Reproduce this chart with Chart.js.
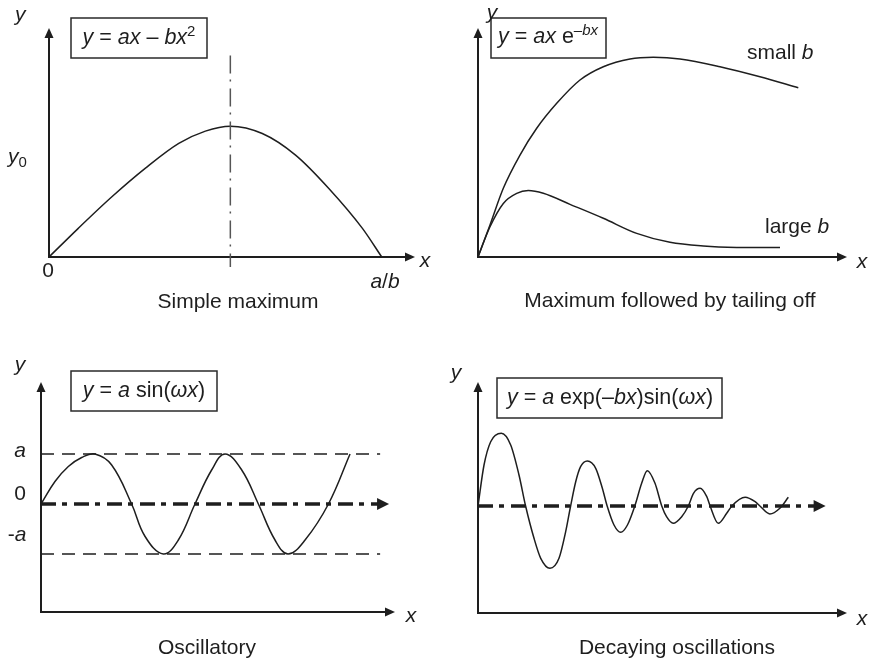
<!DOCTYPE html>
<html>
<head>
<meta charset="utf-8">
<script src="https://cdn.jsdelivr.net/npm/chart.js@4.4.1/dist/chart.umd.min.js"></script>
<style>
    body { margin: 0; background: #fff; }
    #wrap { position: relative; width: 870px; height: 661px; }
    #wrap canvas { position: absolute; left: 0; top: 0; }
</style>
</head>
<body>
<div id="wrap">
    <canvas id="maxChart" width="870" height="661"></canvas>
    <canvas id="tailChart" width="870" height="661"></canvas>
    <canvas id="oscChart" width="870" height="661"></canvas>
    <canvas id="decayChart" width="870" height="661"></canvas>
</div>
<script>
// Panel 1: y = ax - bx^2 (x in units of a/b, y in units of the maximum)
const MAX_X = [0, 0.088, 0.189, 0.289, 0.390, 0.470, 0.545, 0.641, 0.741, 0.841, 0.942, 1.0];
const MAX_Y = [0, 0.219, 0.460, 0.677, 0.868, 0.962, 1.0, 0.944, 0.779, 0.524, 0.219, 0];
const MAX_PEAK_X = 0.545;
const MAX_MARK_Y = [1.54, -0.076];

// Panel 2: y = ax e^-bx
const SMALL_B_X = [0, 0.325, 0.686, 1.138, 1.591, 2.133, 2.764, 3.396, 4.119, 4.751, 5.474, 6.558, 7.642, 8.680];
const SMALL_B_Y = [0, 1.40, 3.00, 4.45, 5.62, 6.71, 7.73, 8.31, 8.65, 8.72, 8.65, 8.31, 7.87, 7.39];
const LARGE_B_X = [0, 0.325, 0.686, 1.049, 1.363, 1.770, 2.493, 3.396, 4.301, 5.203, 6.106, 7.011, 8.184];
const LARGE_B_Y = [0, 1.32, 2.34, 2.78, 2.90, 2.78, 2.30, 1.69, 1.03, 0.64, 0.48, 0.42, 0.41];

// Panel 3: y = a sin(wx), a = 1
const OSC_X = [0, 0.395, 0.772, 1.149, 1.525, 1.996, 2.56, 2.94, 3.455, 3.88, 4.35, 4.82, 5.198, 5.67, 6.14, 6.61, 6.98, 7.46, 8.12, 8.73];
const OSC_Y = [0, 0.45, 0.75, 0.93, 1.0, 0.78, 0, -0.65, -1.0, -0.72, 0, 0.68, 1.0, 0.68, 0, -0.72, -1.0, -0.72, 0, 1.0];
const OSC_LEVELS = [1, -1];
const OSC_LEVEL_END = 9.58;
const OSC_ZERO_END = 9.55;

// Panel 4: y = a exp(-bx) sin(wx)
const DECAY_X = [0, 0.163, 0.344, 0.632, 0.886, 1.111, 1.29, 1.518, 1.70, 1.951, 2.195, 2.376, 2.51, 2.648, 2.78, 2.963,
                 3.19, 3.37, 3.50, 3.686, 3.867, 4.05, 4.25, 4.435, 4.588, 4.797, 4.98, 5.11, 5.29, 5.52, 5.70, 5.84,
                 6.02, 6.20, 6.29, 6.51, 6.74, 6.88, 7.24, 7.51, 7.64, 7.91, 8.18, 8.41];
const DECAY_Y = [0, 4.1, 6.43, 7.27, 6.1, 3.1, 0, -3.23, -5.23, -6.23, -5.23, -2.57, 0, 2.43, 3.93, 4.5,
                 3.77, 1.77, 0, -1.9, -2.63, -1.9, 0, 2.27, 3.53, 2.27, 0, -1.07, -1.73, -1.07, 0, 1.27,
                 1.77, 0.93, 0, -1.73, -0.73, 0, 0.87, 0.43, 0, -0.8, -0.23, 0.87];
const DECAY_ZERO_END = 9.15;

const FONT = '"Liberation Sans", Arial, Helvetica, sans-serif';
const INK = '#1e1e1e';
const TEXT_SIZE = 21;
const BOX_TEXT_SIZE = 21.5;

const xy = (xs, ys) => xs.map((x, i) => ({ x, y: ys[i] }));

/**
 * Pfeilspitze zeichnen, (dx, dy) = Richtung
 */
function head(ctx, x, y, dx, dy, len, half) {
    ctx.beginPath();
    ctx.moveTo(x, y);
    ctx.lineTo(x - dx * len - dy * half, y - dy * len + dx * half);
    ctx.lineTo(x - dx * len + dy * half, y - dy * len - dx * half);
    ctx.closePath();
    ctx.fill();
}

function drawAxes(chart) {
    const ctx = chart.ctx;
    const a = chart.chartArea;
    ctx.save();
    ctx.strokeStyle = INK;
    ctx.fillStyle = INK;
    ctx.lineWidth = 2;
    ctx.beginPath();
    ctx.moveTo(a.left, a.top + 8);
    ctx.lineTo(a.left, a.bottom);
    ctx.lineTo(a.right - 8, a.bottom);
    ctx.stroke();
    head(ctx, a.left, a.top, 0, -1, 10, 4.5);
    head(ctx, a.right, a.bottom, 1, 0, 10, 4.5);
    ctx.restore();
}

/**
 * Text mit kursiven / hochgestellten Teilen
 * parts: [[text, style]], style: 'i', 'sup', 'isup', 'sub'
 */
function rich(ctx, parts, x, y, align = 'left', size = TEXT_SIZE) {
    const fontFor = st => {
        const small = st && (st.includes('sup') || st === 'sub');
        const italic = st && st.startsWith('i');
        return (italic ? 'italic ' : '') + (small ? Math.round(size * 0.7) : size) + 'px ' + FONT;
    };
    let total = 0;
    const widths = parts.map(([t, st]) => {
        ctx.font = fontFor(st);
        const w = ctx.measureText(t).width;
        total += w;
        return w;
    });
    let cx = align === 'center' ? x - total / 2 : align === 'right' ? x - total : x;
    ctx.textAlign = 'left';
    ctx.textBaseline = 'alphabetic';
    parts.forEach(([t, st], i) => {
        ctx.font = fontFor(st);
        let dy = 0;
        if (st && st.includes('sup')) dy = -8;
        if (st === 'sub') dy = 4;
        ctx.fillText(t, cx, y + dy);
        cx += widths[i];
    });
}

function box(ctx, x1, y1, x2, y2) {
    ctx.lineWidth = 1.5;
    ctx.strokeStyle = '#2a2a2a';
    ctx.strokeRect(x1, y1, x2 - x1, y2 - y1);
}

function decor(draw) {
    return {
        id: 'decor',
        beforeDatasetsDraw(chart) { drawAxes(chart); },
        afterDraw(chart) {
            const ctx = chart.ctx;
            ctx.save();
            ctx.fillStyle = INK;
            draw(chart, ctx);
            ctx.restore();
        }
    };
}

function curve(data, extra = {}) {
    return Object.assign({
        data,
        showLine: true,
        borderColor: INK,
        borderWidth: 1.5,
        pointRadius: 0,
        cubicInterpolationMode: 'monotone',
        fill: false,
        clip: false
    }, extra);
}

function makeChart(id, padding, xr, yr, datasets, draw) {
    return new Chart(document.getElementById(id), {
        type: 'scatter',
        data: { datasets },
        options: {
            responsive: false,
            animation: false,
            devicePixelRatio: 1,
            events: [],
            layout: { padding },
            plugins: { legend: { display: false }, tooltip: { enabled: false } },
            scales: {
                x: { type: 'linear', display: false, min: xr[0], max: xr[1] },
                y: { type: 'linear', display: false, min: yr[0], max: yr[1] }
            }
        },
        plugins: [decor(draw)]
    });
}

// Panel 1 - Simple maximum
makeChart('maxChart', { left: 49, right: 455, top: 28, bottom: 404 }, [0, 1.1], [0, 1.75], [
    curve([{ x: MAX_PEAK_X, y: MAX_MARK_Y[0] }, { x: MAX_PEAK_X, y: MAX_MARK_Y[1] }],
        { borderColor: '#555', borderDash: [18, 6, 2, 7], cubicInterpolationMode: 'default' }),
    curve(xy(MAX_X, MAX_Y))
], (chart, ctx) => {
    box(ctx, 71, 18, 207, 58);
    rich(ctx, [['y', 'i'], [' = '], ['ax', 'i'], [' – '], ['bx', 'i'], ['2', 'sup']], 139, 44, 'center', BOX_TEXT_SIZE);
    rich(ctx, [['y', 'i']], 15, 21);
    rich(ctx, [['y', 'i'], ['0', 'sub']], 8, 163);
    rich(ctx, [['0']], 48, 277, 'center');
    rich(ctx, [['a', 'i'], ['/'], ['b', 'i']], 385, 288, 'center');
    rich(ctx, [['x', 'i']], 425, 267, 'center');
    rich(ctx, [['Simple maximum']], 238, 308, 'center');
});

// Panel 2 - Maximum followed by tailing off
makeChart('tailChart', { left: 478, right: 23, top: 28, bottom: 404 }, [0, 10], [0, 10], [
    curve(xy(SMALL_B_X, SMALL_B_Y)),
    curve(xy(LARGE_B_X, LARGE_B_Y))
], (chart, ctx) => {
    box(ctx, 491, 18, 606, 58);
    rich(ctx, [['y', 'i'], [' = '], ['ax', 'i'], [' e'], ['–', 'sup'], ['bx', 'isup']], 548, 43, 'center', BOX_TEXT_SIZE);
    rich(ctx, [['y', 'i']], 492, 19, 'center');
    rich(ctx, [['small '], ['b', 'i']], 747, 59);
    rich(ctx, [['large '], ['b', 'i']], 765, 233);
    rich(ctx, [['x', 'i']], 862, 268, 'center');
    rich(ctx, [['Maximum followed by tailing off']], 670, 307, 'center');
});

// Panel 3 - Oscillatory
makeChart('oscChart', { left: 41, right: 475, top: 382, bottom: 49 }, [0, 10], [-2.16, 2.44], [
    curve([{ x: 0, y: 0 }, { x: OSC_ZERO_END, y: 0 }],
        { borderWidth: 3.5, borderDash: [15, 6, 5, 7], cubicInterpolationMode: 'default' }),
    curve([{ x: 0, y: OSC_LEVELS[0] }, { x: OSC_LEVEL_END, y: OSC_LEVELS[0] }],
        { borderWidth: 1.4, borderDash: [13, 8], cubicInterpolationMode: 'default' }),
    curve([{ x: 0, y: OSC_LEVELS[1] }, { x: OSC_LEVEL_END, y: OSC_LEVELS[1] }],
        { borderWidth: 1.4, borderDash: [13, 8], cubicInterpolationMode: 'default' }),
    curve(xy(OSC_X, OSC_Y), { cubicInterpolationMode: 'default', tension: 0.4 })
], (chart, ctx) => {
    const sx = chart.scales.x, sy = chart.scales.y;
    head(ctx, sx.getPixelForValue(OSC_ZERO_END) + 10, sy.getPixelForValue(0), 1, 0, 12, 6);
    box(ctx, 71, 371, 217, 411);
    rich(ctx, [['y', 'i'], [' = '], ['a', 'i'], [' sin('], ['ωx', 'i'], [')']], 144, 397, 'center', BOX_TEXT_SIZE);
    rich(ctx, [['y', 'i']], 20, 371, 'center');
    rich(ctx, [['a', 'i']], 20, sy.getPixelForValue(OSC_LEVELS[0]) + 3, 'center');
    rich(ctx, [['0']], 20, 500, 'center');
    rich(ctx, [['-'], ['a', 'i']], 17, sy.getPixelForValue(OSC_LEVELS[1]) - 13, 'center');
    rich(ctx, [['x', 'i']], 411, 622, 'center');
    rich(ctx, [['Oscillatory']], 207, 654, 'center');
});

// Panel 4 - Decaying oscillations
makeChart('decayChart', { left: 478, right: 23, top: 382, bottom: 48 }, [0, 10], [-10.7, 12.4], [
    curve([{ x: 0, y: 0 }, { x: DECAY_ZERO_END, y: 0 }],
        { borderWidth: 3.5, borderDash: [15, 6, 5, 7], cubicInterpolationMode: 'default' }),
    curve(xy(DECAY_X, DECAY_Y))
], (chart, ctx) => {
    const sx = chart.scales.x, sy = chart.scales.y;
    head(ctx, sx.getPixelForValue(DECAY_ZERO_END) + 10, sy.getPixelForValue(0), 1, 0, 12, 6);
    box(ctx, 497, 378, 722, 418);
    rich(ctx, [['y', 'i'], [' = '], ['a', 'i'], [' exp(–'], ['bx', 'i'], [')sin('], ['ωx', 'i'], [')']], 610, 404, 'center', BOX_TEXT_SIZE);
    rich(ctx, [['y', 'i']], 456, 379, 'center');
    rich(ctx, [['x', 'i']], 862, 625, 'center');
    rich(ctx, [['Decaying oscillations']], 677, 654, 'center');
});
</script>
</body>
</html>
